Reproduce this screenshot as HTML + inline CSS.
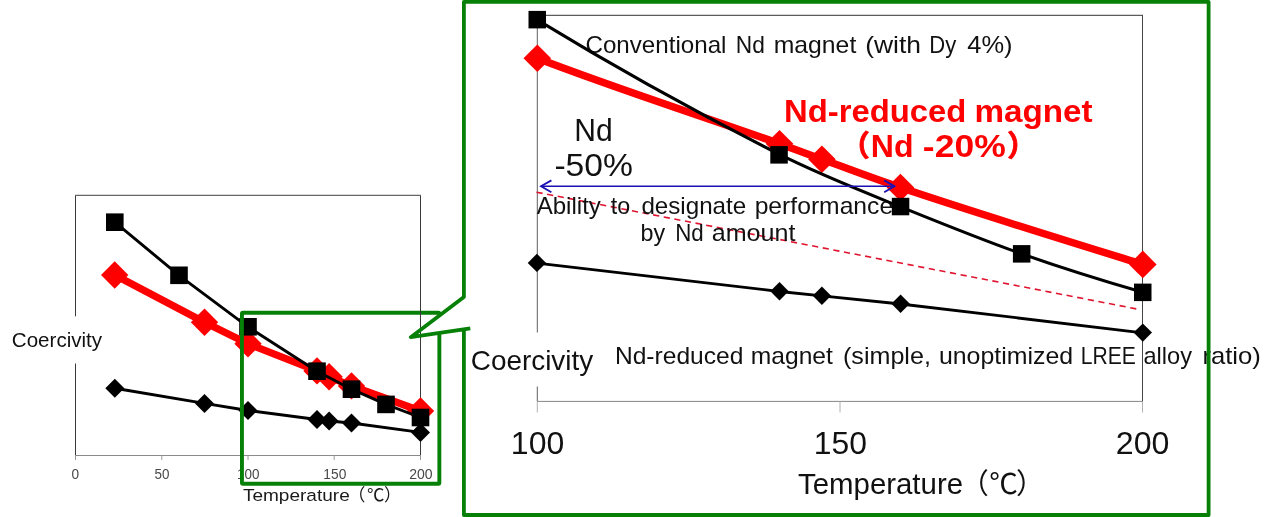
<!DOCTYPE html>
<html lang="en">
<head>
<meta charset="utf-8">
<title>Coercivity vs Temperature</title>
<style>
html,body{margin:0;padding:0;background:#fff;}
body{width:1280px;height:517px;overflow:hidden;}
svg{display:block;font-family:"Liberation Sans", "Noto Sans CJK JP", sans-serif;}
text{white-space:pre;stroke-linejoin:round;}
</style>
</head>
<body>
<svg width="1280" height="517" viewBox="0 0 1280 517">
<rect x="0" y="0" width="1280" height="517" fill="#fff"/>
<g id="small-chart">
<path d="M75.5,455.5 V195 M420.5,195 V455.5" fill="none" stroke="#3a3a3a" stroke-width="1"/>
<path d="M75.0,195.35 H421.0" fill="none" stroke="#666" stroke-width="1.15"/>
<path d="M75.5,455.5 H420.5" fill="none" stroke="#8a8a8a" stroke-width="1.2"/>
<path d="M75.5,455.5 v4.5" stroke="#9a9a9a" stroke-width="1" fill="none"/>
<path d="M161.8,455.5 v4.5" stroke="#9a9a9a" stroke-width="1" fill="none"/>
<path d="M248.0,455.5 v4.5" stroke="#9a9a9a" stroke-width="1" fill="none"/>
<path d="M334.2,455.5 v4.5" stroke="#9a9a9a" stroke-width="1" fill="none"/>
<path d="M420.5,455.5 v4.5" stroke="#9a9a9a" stroke-width="1" fill="none"/>
<text y="478.7" font-size="14.2" fill="#484848" font-weight="normal"><tspan x="71.50" y="478.7" textLength="7.59" lengthAdjust="spacingAndGlyphs">0</tspan></text>
<text y="478.7" font-size="14.2" fill="#484848" font-weight="normal"><tspan x="154.50" y="478.7" textLength="14.90" lengthAdjust="spacingAndGlyphs">50</tspan></text>
<text y="478.7" font-size="14.2" fill="#484848" font-weight="normal"><tspan x="237.05" y="478.7" textLength="22.44" lengthAdjust="spacingAndGlyphs">100</tspan></text>
<text y="478.7" font-size="14.2" fill="#484848" font-weight="normal"><tspan x="323.33" y="478.7" textLength="22.96" lengthAdjust="spacingAndGlyphs">150</tspan></text>
<text y="478.7" font-size="14.2" fill="#484848" font-weight="normal"><tspan x="409.20" y="478.7" textLength="23.39" lengthAdjust="spacingAndGlyphs">200</tspan></text>
<text y="500.8" font-size="17.4" fill="#1a1a1a"><tspan x="242.90" y="500.8" textLength="106.84" lengthAdjust="spacingAndGlyphs">Temperature</tspan><tspan x="348.10" y="500.8" font-family='"Noto Sans CJK JP", sans-serif'>（</tspan><tspan x="366.95" y="500.8" font-family='"Noto Sans CJK JP", sans-serif'>℃</tspan><tspan x="383.90" y="500.8" font-family='"Noto Sans CJK JP", sans-serif'>）</tspan></text>
<rect x="8" y="316.3" width="98" height="47.2" fill="#fff"/>
<text y="347.4" font-size="19.3" fill="#111" font-weight="normal"><tspan x="11.80" y="347.4" textLength="90.32" lengthAdjust="spacingAndGlyphs">Coercivity</tspan></text>
<polyline points="114.8,388.3 204.5,403.4 248.0,410.5 317.0,419.5 329.1,421.0 351.5,423.0 420.5,432.4" fill="none" stroke="#000" stroke-width="2.9" stroke-linejoin="round" />
<polygon points="105.3,388.3 114.8,378.8 124.3,388.3 114.8,397.8" fill="#000"/>
<polygon points="195.0,403.4 204.5,393.9 214.0,403.4 204.5,412.9" fill="#000"/>
<polygon points="238.5,410.5 248.0,401.0 257.5,410.5 248.0,420.0" fill="#000"/>
<polygon points="307.5,419.5 317.0,410.0 326.5,419.5 317.0,429.0" fill="#000"/>
<polygon points="319.6,421.0 329.1,411.5 338.6,421.0 329.1,430.5" fill="#000"/>
<polygon points="342.0,423.0 351.5,413.5 361.0,423.0 351.5,432.5" fill="#000"/>
<polygon points="411.0,432.4 420.5,422.9 430.0,432.4 420.5,441.9" fill="#000"/>
<polyline points="114.7,275.0 204.5,322.2 248.0,343.7 317.0,370.9 329.1,376.8 351.5,385.9 420.5,411.0" fill="none" stroke="#ff0000" stroke-width="7.3" stroke-linejoin="round" />
<polygon points="101.0,275.0 114.7,261.3 128.4,275.0 114.7,288.7" fill="#ff0000"/>
<polygon points="190.8,322.2 204.5,308.5 218.2,322.2 204.5,335.9" fill="#ff0000"/>
<polygon points="234.3,343.7 248.0,330.0 261.7,343.7 248.0,357.4" fill="#ff0000"/>
<polygon points="303.3,370.9 317.0,357.2 330.7,370.9 317.0,384.6" fill="#ff0000"/>
<polygon points="315.4,376.8 329.1,363.1 342.8,376.8 329.1,390.5" fill="#ff0000"/>
<polygon points="337.8,385.9 351.5,372.2 365.2,385.9 351.5,399.6" fill="#ff0000"/>
<polygon points="406.8,411.0 420.5,397.3 434.2,411.0 420.5,424.7" fill="#ff0000"/>
<polyline points="114.8,222.2 179.0,275.3 248.0,326.8 317.0,371.2 351.5,389.2 386.0,404.4 420.5,417.5" fill="none" stroke="#000" stroke-width="2.9" stroke-linejoin="round" />
<rect x="106.0" y="213.4" width="17.6" height="17.6" fill="#000"/>
<rect x="170.2" y="266.5" width="17.6" height="17.6" fill="#000"/>
<rect x="239.2" y="318.0" width="17.6" height="17.6" fill="#000"/>
<rect x="308.2" y="362.4" width="17.6" height="17.6" fill="#000"/>
<rect x="342.7" y="380.4" width="17.6" height="17.6" fill="#000"/>
<rect x="377.2" y="395.6" width="17.6" height="17.6" fill="#000"/>
<rect x="411.7" y="408.7" width="17.6" height="17.6" fill="#000"/>
<rect x="241.95" y="312.8" width="197.4" height="171.0" rx="1" fill="none" stroke="#078007" stroke-width="3.9"/>
</g>
<g id="callout">
<path d="M463.9,1.9 H1208.6 V515.0 H463.9 V329 L410,337 L463.9,297 Z" fill="#fff" stroke="none"/>
<path d="M420.5,300 V345" fill="none" stroke="#3a3a3a" stroke-width="1"/>
<path d="M537.0,15.3 H1143" fill="none" stroke="#5c5c5c" stroke-width="1.2"/>
<path d="M537.3,401.4 H1143" fill="none" stroke="#858585" stroke-width="1"/>
<path d="M537.3,332.5 V15.2" fill="none" stroke="#606060" stroke-width="1"/>
<path d="M537.3,386.5 V401.4" fill="none" stroke="#606060" stroke-width="1"/>
<path d="M1142.5,15.2 V401.4" fill="none" stroke="#444" stroke-width="1"/>
<path d="M537.3,401.4 v11" stroke="#b0b0b0" stroke-width="1" fill="none"/>
<path d="M840.0,401.4 v11" stroke="#b0b0b0" stroke-width="1" fill="none"/>
<path d="M1142.5,401.4 v11" stroke="#b0b0b0" stroke-width="1" fill="none"/>
<text y="453.7" font-size="31.6" fill="#111" font-weight="normal"><tspan x="510.87" y="453.7" textLength="53.40" lengthAdjust="spacingAndGlyphs">100</tspan></text>
<text y="453.7" font-size="31.6" fill="#111" font-weight="normal"><tspan x="813.68" y="453.7" textLength="53.19" lengthAdjust="spacingAndGlyphs">150</tspan></text>
<text y="453.7" font-size="31.6" fill="#111" font-weight="normal"><tspan x="1115.88" y="453.7" textLength="53.60" lengthAdjust="spacingAndGlyphs">200</tspan></text>
<text y="493.9" font-size="28.6" fill="#111"><tspan x="798.00" y="493.9" textLength="165.03" lengthAdjust="spacingAndGlyphs">Temperature</tspan><tspan x="960.35" y="493.8" font-family='"Noto Sans CJK JP", sans-serif'>（</tspan><tspan x="989.30" y="493.8" font-family='"Noto Sans CJK JP", sans-serif'>℃</tspan><tspan x="1016.10" y="493.8" font-family='"Noto Sans CJK JP", sans-serif'>）</tspan></text>
<text y="370.3" font-size="28" fill="#111" font-weight="normal"><tspan x="470.80" y="370.3" textLength="122.40" lengthAdjust="spacingAndGlyphs">Coercivity</tspan></text>
<path d="M536.5,192.2 L1137,309" fill="none" stroke="#e0142f" stroke-width="1.6" stroke-dasharray="6.2 4.6"/>
<text y="53.2" font-size="23.4" fill="#111" font-weight="normal"><tspan x="585.47" y="53.2" textLength="140.97" lengthAdjust="spacingAndGlyphs">Conventional</tspan> <tspan x="735.83" y="53.2" textLength="29.05" lengthAdjust="spacingAndGlyphs">Nd</tspan> <tspan x="773.74" y="53.2" textLength="82.53" lengthAdjust="spacingAndGlyphs">magnet</tspan> <tspan x="865.17" y="53.2" textLength="55.87" lengthAdjust="spacingAndGlyphs">(with</tspan> <tspan x="929.26" y="53.2" textLength="26.96" lengthAdjust="spacingAndGlyphs">Dy</tspan> <tspan x="967.30" y="53.2" textLength="45.26" lengthAdjust="spacingAndGlyphs">4%)</tspan></text>
<text y="141.4" font-size="31.2" fill="#111" font-weight="normal"><tspan x="574.37" y="141.4" textLength="38.42" lengthAdjust="spacingAndGlyphs">Nd</tspan></text>
<text y="176.2" font-size="31.2" fill="#111" font-weight="normal"><tspan x="554.42" y="176.2" textLength="78.57" lengthAdjust="spacingAndGlyphs">-50%</tspan></text>
<text y="213.9" font-size="23.4" fill="#111" font-weight="normal"><tspan x="536.70" y="213.9" textLength="64.19" lengthAdjust="spacingAndGlyphs">Ability</tspan> <tspan x="610.80" y="213.9" textLength="19.41" lengthAdjust="spacingAndGlyphs">to</tspan> <tspan x="641.40" y="213.9" textLength="104.84" lengthAdjust="spacingAndGlyphs">designate</tspan> <tspan x="754.65" y="213.9" textLength="138.52" lengthAdjust="spacingAndGlyphs">performance</tspan></text>
<text y="240.6" font-size="23.4" fill="#111" font-weight="normal"><tspan x="640.60" y="240.6" textLength="24.59" lengthAdjust="spacingAndGlyphs">by</tspan> <tspan x="675.15" y="240.6" textLength="28.52" lengthAdjust="spacingAndGlyphs">Nd</tspan> <tspan x="711.73" y="240.6" textLength="83.74" lengthAdjust="spacingAndGlyphs">amount</tspan></text>
<text y="363.6" font-size="23.4" fill="#111" font-weight="normal"><tspan x="614.95" y="363.6" textLength="128.41" lengthAdjust="spacingAndGlyphs">Nd-reduced</tspan> <tspan x="750.75" y="363.6" textLength="82.12" lengthAdjust="spacingAndGlyphs">magnet</tspan> <tspan x="843.03" y="363.6" textLength="87.88" lengthAdjust="spacingAndGlyphs">(simple,</tspan> <tspan x="938.94" y="363.6" textLength="134.14" lengthAdjust="spacingAndGlyphs">unoptimized</tspan> <tspan x="1080.80" y="363.6" textLength="55.15" lengthAdjust="spacingAndGlyphs">LREE</tspan> <tspan x="1143.49" y="363.6" textLength="48.50" lengthAdjust="spacingAndGlyphs">alloy</tspan> <tspan x="1202.40" y="363.6" textLength="58.46" lengthAdjust="spacingAndGlyphs">ratio)</tspan></text>
<text y="121.9" font-size="32" fill="#ff0000" font-weight="bold"><tspan x="783.95" y="121.9" textLength="182.44" lengthAdjust="spacingAndGlyphs">Nd-reduced</tspan> <tspan x="974.42" y="121.9" textLength="118.12" lengthAdjust="spacingAndGlyphs">magnet</tspan></text>
<text y="156.6" font-size="32" fill="#ff0000" font-weight="bold"><tspan x="840.85" y="155.8" font-family='"Noto Sans CJK JP", sans-serif' font-size="29" stroke="#ff0000" stroke-width="0.9">（</tspan><tspan x="870.80" y="156.6" textLength="42.76" lengthAdjust="spacingAndGlyphs">Nd</tspan> <tspan x="922.89" y="156.6" textLength="82.81" lengthAdjust="spacingAndGlyphs">-20%</tspan><tspan x="1007.25" y="155.8" font-family='"Noto Sans CJK JP", sans-serif' font-size="29" stroke="#ff0000" stroke-width="0.9">）</tspan></text>
<polyline points="536.9,263.1 779.5,291.5 821.9,295.9 900.6,304.0 1142.8,332.8" fill="none" stroke="#000" stroke-width="2.8" stroke-linejoin="round" />
<polygon points="527.7,262.9 536.9,253.7 546.1,262.9 536.9,272.1" fill="#000"/>
<polygon points="770.3,291.3 779.5,282.1 788.7,291.3 779.5,300.5" fill="#000"/>
<polygon points="812.7,295.7 821.9,286.5 831.1,295.7 821.9,304.9" fill="#000"/>
<polygon points="891.4,303.8 900.6,294.6 909.8,303.8 900.6,313.0" fill="#000"/>
<polygon points="1133.6,332.6 1142.8,323.4 1152.0,332.6 1142.8,341.8" fill="#000"/>
<path d="M537.3,58.3 C618.0,89.4 698.8,114.9 779.5,143.7 C793.6,148.7 807.8,154.3 821.9,159.3 C848.1,168.6 874.2,178.7 900.4,187.5 C981.2,214.6 1062.0,239.4 1142.8,264.4" fill="none" stroke="#ff0000" stroke-width="7.4" stroke-linejoin="round"/>
<polygon points="523.5,58.3 537.3,44.5 551.1,58.3 537.3,72.1" fill="#ff0000"/>
<polygon points="765.7,143.7 779.5,129.9 793.3,143.7 779.5,157.5" fill="#ff0000"/>
<polygon points="808.1,159.3 821.9,145.5 835.7,159.3 821.9,173.1" fill="#ff0000"/>
<polygon points="886.6,187.5 900.4,173.7 914.2,187.5 900.4,201.3" fill="#ff0000"/>
<polygon points="1129.0,264.4 1142.8,250.6 1156.6,264.4 1142.8,278.2" fill="#ff0000"/>
<path d="M537.3,19.9 C617.9,69.1 698.5,113.5 779.1,154.2 C819.6,174.7 860.1,190.4 900.6,206.8 C941.0,223.1 981.3,239.5 1021.7,253.8 C1062.1,268.1 1102.4,280.6 1142.8,292.3" fill="none" stroke="#000" stroke-width="3.0" stroke-linejoin="round"/>
<rect x="528.5" y="10.9" width="17.5" height="17.5" fill="#000"/>
<rect x="770.3" y="146.1" width="17.5" height="17.5" fill="#000"/>
<rect x="891.8" y="197.8" width="17.5" height="17.5" fill="#000"/>
<rect x="1012.9" y="245.1" width="17.5" height="17.5" fill="#000"/>
<rect x="1134.0" y="283.6" width="17.5" height="17.5" fill="#000"/>
<path d="M541,186.3 H894.4" fill="none" stroke="#1a10b4" stroke-width="1.5"/>
<path d="M551.4,180.4 L541,186.3 L551.4,192.2" fill="none" stroke="#1a10b4" stroke-width="1.8"/>
<path d="M884.2,180.4 L894.4,186.3 L884.2,192.2" fill="none" stroke="#1a10b4" stroke-width="1.8"/>
<path d="M463.9,331 V515.0 H1208.6 V1.9 H463.9 V297 L410.8,337.2 L470.3,328.3" fill="none" stroke="#078007" stroke-width="3.8" stroke-linejoin="round"/>
</g>
</svg>
</body>
</html>
